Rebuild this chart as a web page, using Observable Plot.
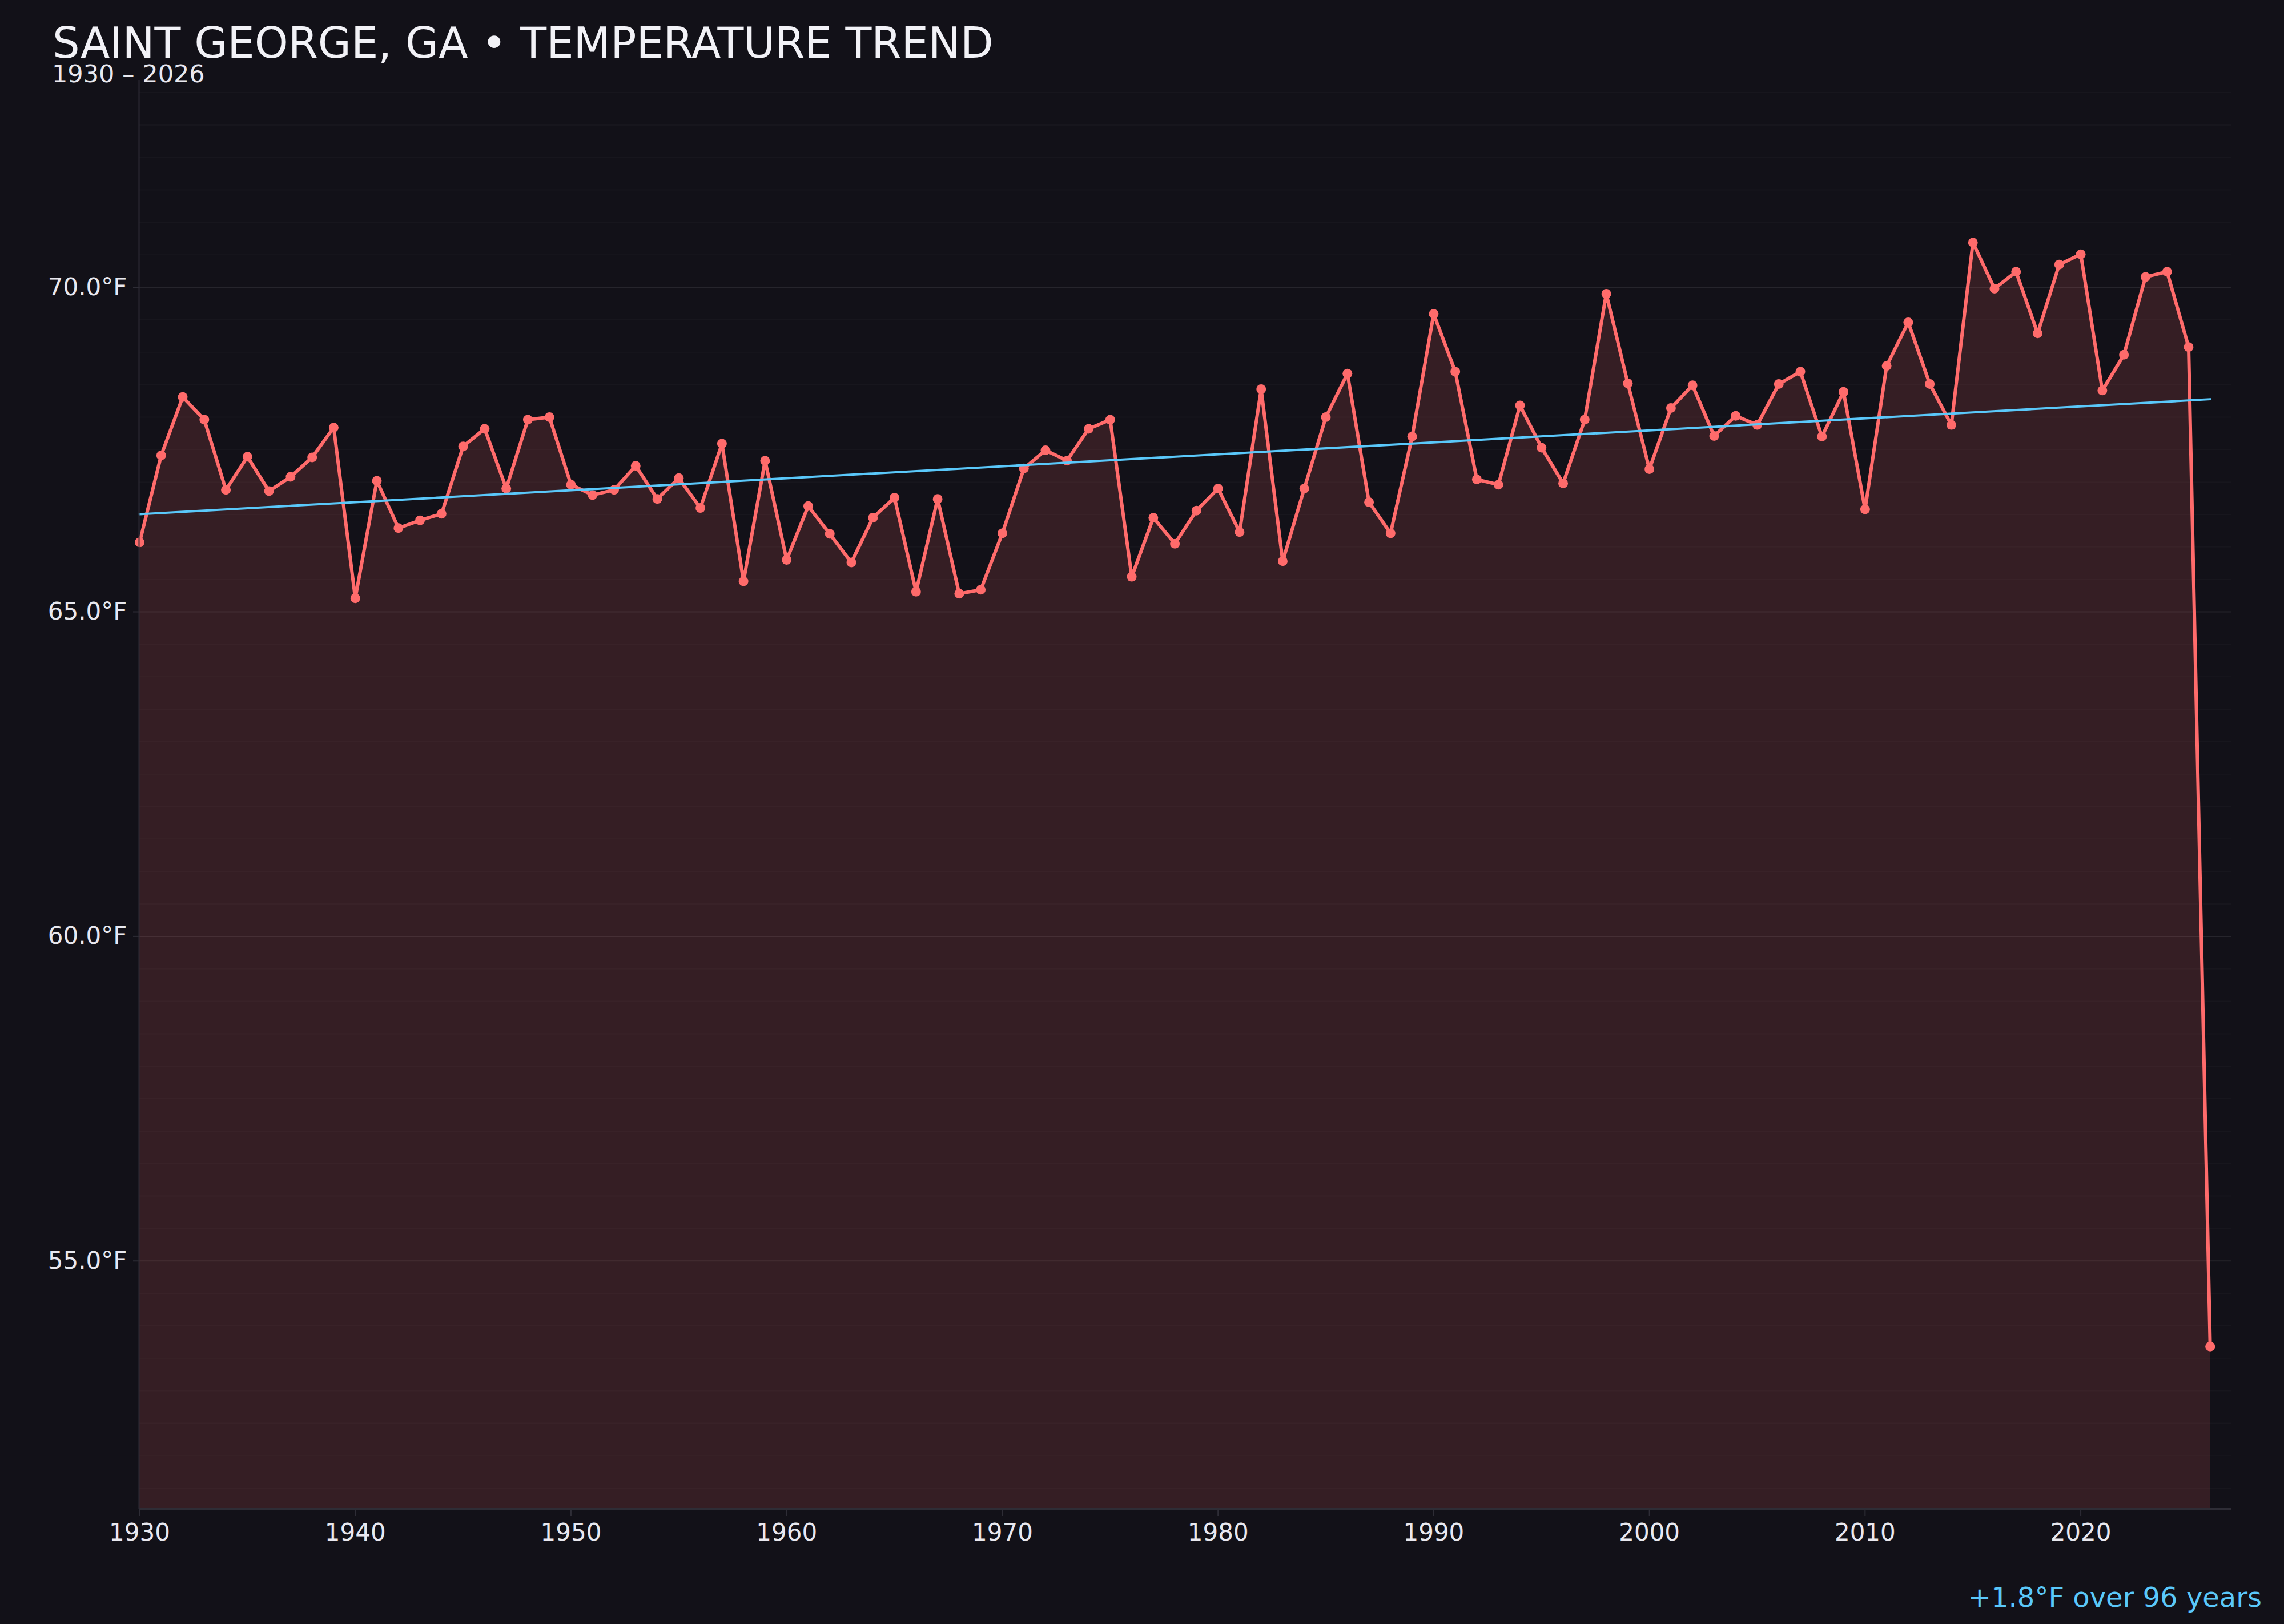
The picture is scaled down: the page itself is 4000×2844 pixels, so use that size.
<!DOCTYPE html>
<html>
<head>
<meta charset="utf-8">
<script src="https://cdn.jsdelivr.net/npm/d3@7"></script>
<script src="https://cdn.jsdelivr.net/npm/@observablehq/plot@0.6"></script>
<style>
  html, body { margin: 0; padding: 0; background: #121118; overflow: hidden; }
  #page { position: relative; width: 4000px; height: 2844px; background: #121118; font-family: "DejaVu Sans", sans-serif; }
  #chart { position: absolute; left: 0; top: 0; }
  .txt { position: absolute; line-height: 0.75; white-space: nowrap; }
  #title { left: 92px; top: 47px; font-size: 75px; color: #f2f2f7; }
  #subtitle { left: 91px; top: 113px; font-size: 43px; color: #e8e8ef; }
  #caption { right: 39px; top: 2779px; font-size: 48px; color: #5ac8fa; }
</style>
</head>
<body>
<div id="page">
  <div id="chart"></div>
  <div id="title" class="txt">SAINT GEORGE, GA • TEMPERATURE TREND</div>
  <div id="subtitle" class="txt">1930 – 2026</div>
  <div id="caption" class="txt">+1.8°F over 96 years</div>
</div>
<script>
const years = [
  1930,1931,1932,1933,1934,1935,1936,1937,1938,1939,
  1940,1941,1942,1943,1944,1945,1946,1947,1948,1949,
  1950,1951,1952,1953,1954,1955,1956,1957,1958,1959,
  1960,1961,1962,1963,1964,1965,1966,1967,1968,1969,
  1970,1971,1972,1973,1974,1975,1976,1977,1978,1979,
  1980,1981,1982,1983,1984,1985,1986,1987,1988,1989,
  1990,1991,1992,1993,1994,1995,1996,1997,1998,1999,
  2000,2001,2002,2003,2004,2005,2006,2007,2008,2009,
  2010,2011,2012,2013,2014,2015,2016,2017,2018,2019,
  2020,2021,2022,2023,2024,2025,2026
];
const temps = [
  66.07,67.41,68.31,67.96,66.88,67.39,66.86,67.08,67.38,67.84,
  65.21,67.02,66.29,66.41,66.51,67.55,67.82,66.90,67.96,68.00,
  66.96,66.80,66.88,67.25,66.74,67.06,66.60,67.59,65.47,67.33,
  65.80,66.63,66.20,65.76,66.45,66.76,65.31,66.74,65.28,65.34,
  66.21,67.21,67.49,67.33,67.82,67.96,65.54,66.45,66.05,66.56,
  66.90,66.23,68.43,65.78,66.90,68.00,68.67,66.69,66.21,67.70,
  69.59,68.70,67.04,66.96,68.18,67.53,66.98,67.96,69.90,68.52,
  67.20,68.14,68.49,67.71,68.02,67.88,68.51,68.70,67.70,68.39,
  66.58,68.79,69.46,68.51,67.88,70.69,69.98,70.24,69.29,70.35,
  70.51,68.41,68.96,70.16,70.24,69.08,53.68
];
const xTicks = [1930, 1940, 1950, 1960, 1970, 1980, 1990, 2000, 2010, 2020];
const yTicks = [55, 60, 65, 70];

const data = years.map((year, i) => ({year, temp: temps[i]}));
const lo = d3.min(temps) - 2.5;
const hi = d3.max(temps) + 2.5;
const minorGrid = d3.range(Math.ceil(lo * 2) / 2, hi, 0.5);

const axisColor = "#2e2d36";
const textColor = "#e8e8ef";

const chart = Plot.plot({
  width: 4000,
  height: 2844,
  marginTop: 140,
  marginBottom: 202,
  marginLeft: 244,
  marginRight: 92,
  style: {background: "transparent", color: textColor, fontFamily: "DejaVu Sans", fontSize: "42px", overflow: "visible"},
  x: {domain: [1930, 2027]},
  y: {domain: [lo, hi]},
  marks: [
    Plot.gridY(minorGrid, {stroke: "#ffffff", strokeOpacity: 0.022, strokeWidth: 2}),
    Plot.gridY(yTicks, {stroke: "#ffffff", strokeOpacity: 0.065, strokeWidth: 2}),
    Plot.areaY(data, {x: "year", y1: () => lo, y2: "temp", fill: "#ff6b6b", fillOpacity: 0.15}),
    Plot.line(data, {x: "year", y: "temp", stroke: "#ff6b6b", strokeWidth: 6, strokeLinejoin: "round"}),
    Plot.dot(data, {x: "year", y: "temp", r: 8.5, fill: "#ff6b6b"}),
    Plot.linearRegressionY(data, {x: "year", y: "temp", stroke: "#5ac8fa", strokeWidth: 4, ci: 0}),
    Plot.ruleY([lo], {stroke: axisColor, strokeWidth: 3}),
    Plot.ruleX([1930], {stroke: axisColor, strokeWidth: 2, dx: -1}),
    Plot.axisX(xTicks, {tickFormat: d => String(d), tickSize: 12, tickPadding: 14, stroke: axisColor, strokeWidth: 2, fill: textColor, fontSize: 42, label: null}),
    Plot.axisY(yTicks, {tickFormat: d => d.toFixed(1) + "°F", tickSize: 11, tickPadding: 11, stroke: axisColor, strokeWidth: 2, fill: textColor, fontSize: 42, label: null})
  ]
});
document.getElementById("chart").appendChild(chart);
</script>
</body>
</html>
